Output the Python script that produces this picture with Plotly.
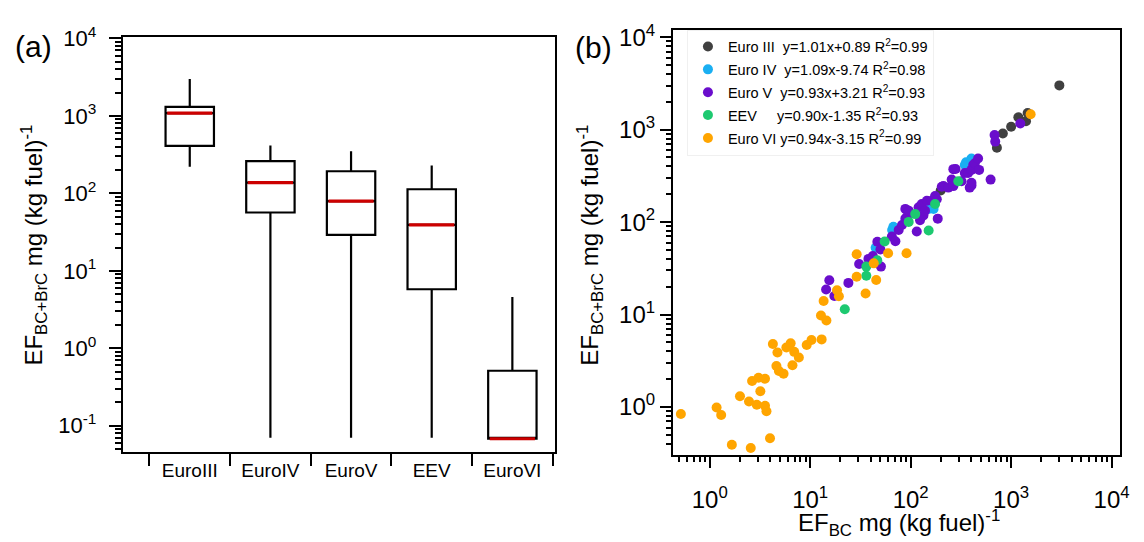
import plotly.graph_objects as go

# ---------------- panel (a): box summary per emission standard ----------------
categories = ["EuroIII", "EuroIV", "EuroV", "EEV", "EuroVI"]
whisker_low = [220, 0.07, 0.07, 0.07, 0.068]
q1_values = [410, 56.6, 29.1, 5.78, 0.068]
median_values = [1085, 138, 79.4, 39.2, 0.068]
q3_values = [1310, 260, 193, 113, 0.513]
whisker_high = [3000, 416, 351, 229, 4.6]

# ---------------- panel (b): EF(BC+BrC) vs EF(BC) ----------------
euro3_bc = [199, 722, 827, 1000, 1180, 1406, 1460, 3020]
euro3_total = [220, 637, 908, 1076, 1361, 1236, 1511, 3010]

euro4_bc = [44.8, 65.4, 67.3, 151, 169, 346, 356, 403, 403]
euro4_total = [52.7, 82.2, 89, 139, 139, 414, 443, 488, 468]

euro5_bc = [14.4, 15.5, 17.4, 24, 30.7, 38, 42, 46.6, 50, 50.6, 65, 70.5, 76, 82,
            88.5, 88.5, 92, 95.5, 115, 120, 124, 129, 134, 139, 145, 162, 175, 182,
            186, 204, 212, 237, 256, 266, 266, 280, 321, 346, 373, 387, 403, 403,
            403, 419, 435, 469, 480, 625, 684, 695, 1234]
euro5_total = [18.7, 23.5, 15.9, 22, 35.2, 40, 43, 61.3, 50.6, 33.0, 70, 62, 82, 93,
               109, 139, 114, 133, 79, 145, 105, 157, 118, 133, 170, 170, 192, 177,
               109, 241, 245, 236, 288, 245, 374, 376, 277, 339, 339, 236, 249, 266,
               367, 414, 432, 488, 367, 288, 873, 742, 1167]

eev_bc = [22.1, 36.2, 36.2, 46.5, 55.1, 95.6, 111, 151, 175, 298]
eev_total = [11.4, 26.3, 33, 38.7, 61.7, 100.5, 122, 81, 157, 276]

euro6_bc = [0.516, 1.17, 1.30, 1.66, 2.56, 3.98, 2.0, 2.46, 2.94, 2.64, 3.06, 3.55,
            3.19, 3.55, 3.67, 4.25, 4.72, 4.61, 4.88, 5.43, 5.79, 6.39, 6.66, 6.93,
            7.71, 9.23, 10.3, 13.0, 12.8, 14.5, 13.6, 18.5, 19.3, 29.0, 29.0, 35.6,
            42.9, 45.4, 59.6, 91, 1564]
euro6_total = [0.84, 0.99, 0.82, 0.39, 0.36, 0.46, 1.31, 1.15, 1.06, 1.91, 2.07, 2.02,
               1.48, 1.03, 0.90, 4.80, 3.89, 2.78, 2.45, 2.29, 4.41, 4.88, 2.83, 3.95,
               3.43, 4.68, 5.30, 5.39, 9.78, 8.63, 14.0, 18.3, 15.8, 45.0, 25.6, 16.9,
               35.8, 23.6, 46.1, 46, 1469]

series_names = [
    "Euro III\u00a0\u00a0y=1.01x+0.89 R<sup>2</sup>=0.99",
    "Euro IV\u00a0\u00a0y=1.09x-9.74 R<sup>2</sup>=0.98",
    "Euro V\u00a0\u00a0y=0.93x+3.21 R<sup>2</sup>=0.93",
    "EEV\u00a0\u00a0\u00a0\u00a0\u00a0y=0.90x-1.35 R<sup>2</sup>=0.93",
    "Euro VI y=0.94x-3.15 R<sup>2</sup>=0.99",
]
series_colors = ["#404040", "#1AAFF2", "#6A0DCC", "#1DC970", "#FFA500"]

log_tick_vals = [0.1, 1, 10, 100, 1000, 10000]
log_tick_text = ["10<sup>-1</sup>", "10<sup>0</sup>", "10<sup>1</sup>",
                 "10<sup>2</sup>", "10<sup>3</sup>", "10<sup>4</sup>"]

FONT = "Liberation Sans, Arial, sans-serif"
W, H = 1144, 542


def minor_vals(e_lo, e_hi):
    return [m * 10 ** e for e in range(e_lo, e_hi + 1) for m in range(2, 10)]


fig = go.Figure()

# black boxes with whiskers
fig.add_trace(go.Box(
    x=categories, q1=q1_values, median=median_values, q3=q3_values,
    lowerfence=whisker_low, upperfence=whisker_high,
    width=0.6, whiskerwidth=0, boxpoints=False,
    fillcolor="white", line=dict(color="black", width=2.2),
    xaxis="x", yaxis="y", showlegend=False, hoverinfo="skip",
))
# red median bars (zero-height boxes at the median)
fig.add_trace(go.Box(
    x=categories, q1=median_values, median=median_values, q3=median_values,
    lowerfence=median_values, upperfence=median_values,
    width=0.56, whiskerwidth=0, boxpoints=False,
    fillcolor="rgba(0,0,0,0)", line=dict(color="#CC0000", width=3.2),
    xaxis="x", yaxis="y", showlegend=False, hoverinfo="skip",
))

scatter_data = [
    (euro3_bc, euro3_total),
    (euro4_bc, euro4_total),
    (euro5_bc, euro5_total),
    (eev_bc, eev_total),
    (euro6_bc, euro6_total),
]
for i, ((xs, ys), name, color) in enumerate(zip(scatter_data, series_names, series_colors)):
    fig.add_trace(go.Scatter(
        x=xs, y=ys, mode="markers", name=name, legendgroup=f"g{i}",
        marker=dict(color=color, size=10, line=dict(width=0)),
        xaxis="x2", yaxis="y2",
    ))

axis_common = dict(
    showline=True, mirror=True, linecolor="black", linewidth=2,
    ticks="outside", tickcolor="black", tickwidth=2,
    showgrid=False, zeroline=False,
)

fig.update_layout(
    width=W, height=H,
    margin=dict(l=0, r=0, t=0, b=0),
    paper_bgcolor="white", plot_bgcolor="white",
    font=dict(family=FONT, color="black"),
    boxmode="overlay",
    xaxis=dict(
        **axis_common, domain=[123.9 / W, 560 / W], anchor="y",
        type="category", range=[-0.83, 4.53], tickson="boundaries",
        ticklen=12, tickfont=dict(size=19), ticklabelstandoff=0,
    ),
    yaxis=dict(
        **axis_common, domain=[1 - 449.4 / H, 1 - 23.5 / H], anchor="x",
        type="log", range=[-1.336, 4.02],
        tickvals=log_tick_vals, ticktext=log_tick_text, ticklen=12,
        tickfont=dict(size=22), ticklabelstandoff=8,
        minor=dict(tickvals=minor_vals(-2, 3), ticks="outside", ticklen=6,
                   tickwidth=2, tickcolor="black", showgrid=False),
    ),
    xaxis2=dict(
        **axis_common, domain=[678.9 / W, 1129.6 / W], anchor="y2",
        type="log", range=[-0.366, 4.081],
        tickvals=log_tick_vals[1:], ticktext=log_tick_text[1:], ticklen=11,
        tickfont=dict(size=24), ticklabelstandoff=11,
        minor=dict(tickvals=minor_vals(-1, 3), ticks="outside", ticklen=5,
                   tickwidth=2, tickcolor="black", showgrid=False),
    ),
    yaxis2=dict(
        **axis_common, domain=[1 - 452.8 / H, 1 - 16.2 / H], anchor="x2",
        type="log", range=[-0.52, 4.08],
        tickvals=log_tick_vals[1:], ticktext=log_tick_text[1:], ticklen=11,
        tickfont=dict(size=24), ticklabelstandoff=0,
        minor=dict(tickvals=minor_vals(-1, 3), ticks="outside", ticklen=5,
                   tickwidth=2, tickcolor="black", showgrid=False),
    ),
    legend=dict(
        x=(713 - 20) / W, y=1 - 16 / H, xanchor="left", yanchor="top",
        font=dict(size=14.5, family=FONT), bgcolor="white",
        bordercolor="#f0f0f0", borderwidth=1, itemsizing="trace",
        tracegroupgap=1,
    ),
    annotations=[
        dict(text="(a)", x=34 / W, y=1 - 33 / H, xref="paper", yref="paper",
             showarrow=False, font=dict(size=30), xanchor="center", yanchor="middle"),
        dict(text="(b)", x=599 / W, y=1 - 34 / H, xref="paper", yref="paper",
             showarrow=False, font=dict(size=30), xanchor="center", yanchor="middle"),
        dict(text="EF<sub>BC+BrC</sub> mg (kg fuel)<sup>-1</sup>",
             x=34 / W, y=1 - 237 / H, xref="paper", yref="paper", textangle=-90,
             showarrow=False, font=dict(size=24), xanchor="center", yanchor="middle"),
        dict(text="EF<sub>BC+BrC</sub> mg (kg fuel)<sup>-1</sup>",
             x=595 / W, y=1 - 237 / H, xref="paper", yref="paper", textangle=-90,
             showarrow=False, font=dict(size=24), xanchor="center", yanchor="middle"),
        dict(text="EF<sub>BC</sub> mg (kg fuel)<sup>-1</sup>",
             x=803 / W, y=1 - 523 / H, xref="paper", yref="paper",
             showarrow=False, font=dict(size=24), xanchor="left", yanchor="middle"),
    ],
)

fig.write_html("out.html")
